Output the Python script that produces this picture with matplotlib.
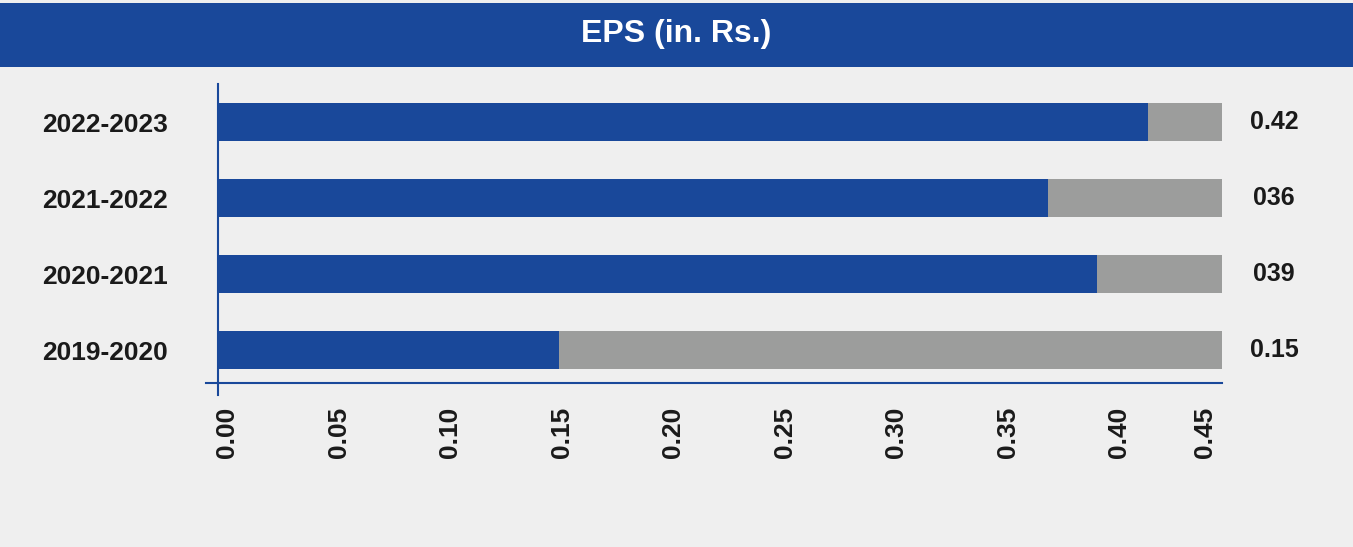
import matplotlib.pyplot as plt
import matplotlib.transforms as mtransforms
from matplotlib.patches import Rectangle
from matplotlib.lines import Line2D

plt.rcParams['font.family'] = ['Liberation Sans', 'DejaVu Sans']

# data (bottom to top)
years = ['2019-2020', '2020-2021', '2021-2022', '2022-2023']
eps = [0.153, 0.394, 0.372, 0.417]
value_labels = ['0.15', '039', '036', '0.42']
axis_max = 0.45
tick_values = [0.00, 0.05, 0.10, 0.15, 0.20, 0.25, 0.30, 0.35, 0.40, 0.45]

blue = '#19489a'
grey = '#9c9d9c'
bg = '#efefef'
text_col = '#1a1a1a'

fig = plt.figure(figsize=(13.53, 5.47), dpi=100, facecolor=bg)
ax = fig.add_axes([218 / 1353, 1 - 383 / 547, 1004 / 1353, 299 / 547])
ax.set_facecolor(bg)

# title banner
fig.patches.append(Rectangle((0, 1 - 67 / 547), 1, 64 / 547, transform=fig.transFigure,
                             facecolor=blue, edgecolor='none', zorder=0))
fig.text(0.5, 1 - 34 / 547, 'EPS (in. Rs.)', ha='center', va='center',
         color='white', fontsize=23, fontweight='bold')

pos = list(range(len(years)))
ax.barh(pos, [axis_max] * len(years), height=0.5, color=grey, zorder=1)
ax.barh(pos, eps, height=0.5, color=blue, zorder=2)

ax.set_xlim(0, axis_max)
ax.set_ylim(-0.434, len(years) - 0.5)

for p, lab in zip(pos, value_labels):
    ax.text(1.052, p, lab, transform=ax.get_yaxis_transform(), ha='center', va='center',
            fontsize=18, fontweight='bold', color=text_col)

ax.set_yticks(pos)
ax.set_yticklabels(years, fontsize=19, fontweight='bold', color=text_col)
ax.tick_params(axis='y', length=0, pad=36)

ax.set_xticks(tick_values)
ax.set_xticklabels([f'{v:.2f}' for v in tick_values], rotation=90, fontsize=19,
                   fontweight='bold', color=text_col, va='top')
ax.tick_params(axis='x', length=0, pad=17)
for i, lab in enumerate(ax.get_xticklabels()):
    dx = -0.17 if i == len(tick_values) - 1 else 0.09
    lab.set_transform(lab.get_transform() + mtransforms.ScaledTranslation(dx, 0, fig.dpi_scale_trans))

for side in ['top', 'right']:
    ax.spines[side].set_visible(False)
for side in ['left', 'bottom']:
    ax.spines[side].set_color(blue)
    ax.spines[side].set_linewidth(1.5)

# small crossing ticks at the origin
ax.add_line(Line2D([-12 / 1004, 0], [0, 0], transform=ax.transAxes, color=blue,
                   linewidth=1.5, clip_on=False))
ax.add_line(Line2D([0, 0], [0, -12 / 299], transform=ax.transAxes, color=blue,
                   linewidth=1.5, clip_on=False))

fig.savefig('out.png', dpi=100, facecolor=bg)
